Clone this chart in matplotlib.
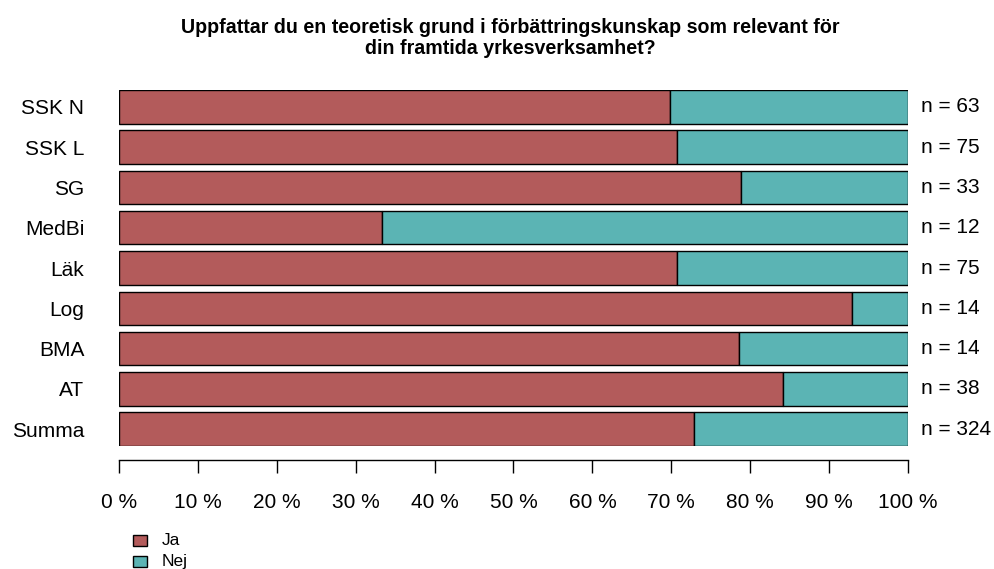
import matplotlib
matplotlib.use("Agg")
import matplotlib.pyplot as plt
import numpy as np

plt.rcParams['font.family'] = ['Liberation Sans', 'DejaVu Sans']

# data (top to bottom as shown)
groups = ["SSK N", "SSK L", "SG", "MedBi", "Läk", "Log", "BMA", "AT", "Summa"]
n_total = [63, 75, 33, 12, 75, 14, 14, 38, 324]
n_ja = [44, 53, 26, 4, 53, 13, 11, 32, 236]
legend_labels = ["Ja", "Nej"]
title = ("Uppfattar du en teoretisk grund i förbättringskunskap som relevant för\n"
         "din framtida yrkesverksamhet?")

col_ja = "#B35B5B"
col_nej = "#5BB4B4"

ja_pct = 100 * np.array(n_ja) / np.array(n_total)
nej_pct = 100 - ja_pct
ypos = np.arange(len(groups))[::-1]

fig = plt.figure(figsize=(9.95, 5.69), dpi=100)
ax = fig.add_axes([119 / 995, 123 / 569, 789 / 995, 356 / 569])

h = 0.833
ax.barh(ypos, ja_pct, height=h, color=col_ja, edgecolor="black", linewidth=1)
ax.barh(ypos, nej_pct, left=ja_pct, height=h, color=col_nej, edgecolor="black", linewidth=1)

ax.set_xlim(0, 100)
ax.set_ylim(-h / 2, len(groups) - 1 + h / 2)

for sp in ["top", "right", "left"]:
    ax.spines[sp].set_visible(False)
ax.spines["bottom"].set_position(("outward", 10))
ax.spines["bottom"].set_linewidth(1)

ax.set_xticks(np.arange(0, 101, 10))
ax.set_xticklabels([f"{v} %" for v in range(0, 101, 10)], fontsize=15)
ax.tick_params(axis="x", length=9.4, width=1, pad=14.5)

ax.set_yticks(ypos)
ax.set_yticklabels(groups, fontsize=15)
ax.tick_params(axis="y", length=0, pad=25)

for y, n in zip(ypos, n_total):
    ax.text(101.6, y, f"n = {n}", va="center", ha="left", fontsize=15, clip_on=False)

fig.text(510 / 995, 1 - 54.3 / 569, title, ha="center", va="baseline",
         fontsize=14.1, fontweight="bold", linespacing=1.15, multialignment="center")

# legend
for i, (lab, c) in enumerate(zip(legend_labels, [col_ja, col_nej])):
    yy = 1 - (540.5 + 21 * i) / 569
    fig.patches.append(plt.Rectangle((133 / 995, yy - 5.5 / 569), 13.5 / 995, 11 / 569,
                                     transform=fig.transFigure, facecolor=c,
                                     edgecolor="black", linewidth=1))
    fig.text(162 / 995, yy, lab, ha="left", va="center", fontsize=12.5)

fig.savefig("out.png", dpi=100)
